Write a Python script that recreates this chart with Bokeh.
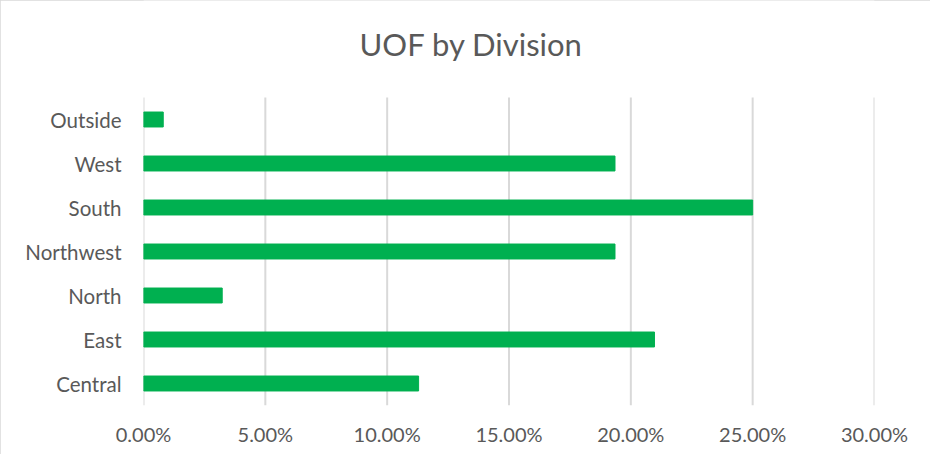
from bokeh.plotting import figure
from bokeh.models import Range1d, FixedTicker, NumeralTickFormatter, Label
from bokeh.embed import file_html
from bokeh.resources import INLINE

# Data (top-to-bottom order as shown in the chart)
divisions = ["Outside", "West", "South", "Northwest", "North", "East", "Central"]
uof_share = [0.0081, 0.1935, 0.2500, 0.1935, 0.0323, 0.2097, 0.1129]
x_ticks = [0.0, 0.05, 0.10, 0.15, 0.20, 0.25, 0.30]
title_text = "UOF by Division"

FONT = "Lato"
TXT = "#595959"
GRID = "#d9d9d9"
GREEN = "#00b050"

n = len(divisions)
# category slots: first division at the top
y_pos = [n - i - 0.5 for i in range(n)]

W, H = 930, 454
FRAME_BOTTOM_PAD = 49
PX_PER_CAT = 44.0
frame_h = H - FRAME_BOTTOM_PAD

p = figure(
    width=W, height=H,
    x_range=Range1d(0, 0.30),
    y_range=Range1d(0, frame_h / PX_PER_CAT),
    output_backend="svg", toolbar_location=None,
    min_border_left=143, min_border_right=56,
    min_border_top=0, min_border_bottom=FRAME_BOTTOM_PAD,
)
p.styles = {"outline": "1px solid #d9d9d9", "outline-offset": "-1px"}

# vertical gridlines spanning only the category band
p.segment(x0=x_ticks, y0=[0] * len(x_ticks), x1=x_ticks, y1=[n] * len(x_ticks),
          line_color=GRID, line_width=2)

p.hbar(y=y_pos, right=uof_share, left=0, height=0.34,
       fill_color=GREEN, line_color=GREEN)

# Chart title, centred over the whole chart box
p.add_layout(Label(x=0.1346, y=n + 54 / PX_PER_CAT, text=title_text,
                   text_font=FONT, text_font_size="31px", text_color=TXT,
                   text_align="center", text_baseline="alphabetic"))

p.outline_line_color = None
p.background_fill_color = "white"
p.border_fill_color = "white"
p.xgrid.grid_line_color = None
p.ygrid.grid_line_color = None

p.xaxis.ticker = FixedTicker(ticks=x_ticks)
p.xaxis.formatter = NumeralTickFormatter(format="0.00%")
p.yaxis.ticker = FixedTicker(ticks=y_pos)
p.yaxis.major_label_overrides = {y: d for y, d in zip(y_pos, divisions)}

for ax in (p.xaxis[0], p.yaxis[0]):
    ax.axis_line_color = None
    ax.major_tick_line_color = None
    ax.minor_tick_line_color = None
    ax.major_tick_out = 0
    ax.major_tick_in = 0
    ax.major_label_text_font = FONT
    ax.major_label_text_font_size = "20px"
    ax.major_label_text_color = TXT

p.yaxis.major_label_text_font_size = "20.5px"
p.xaxis.major_label_standoff = 16
p.yaxis.major_label_standoff = 22

open("out.html", "w").write(file_html(p, INLINE))
